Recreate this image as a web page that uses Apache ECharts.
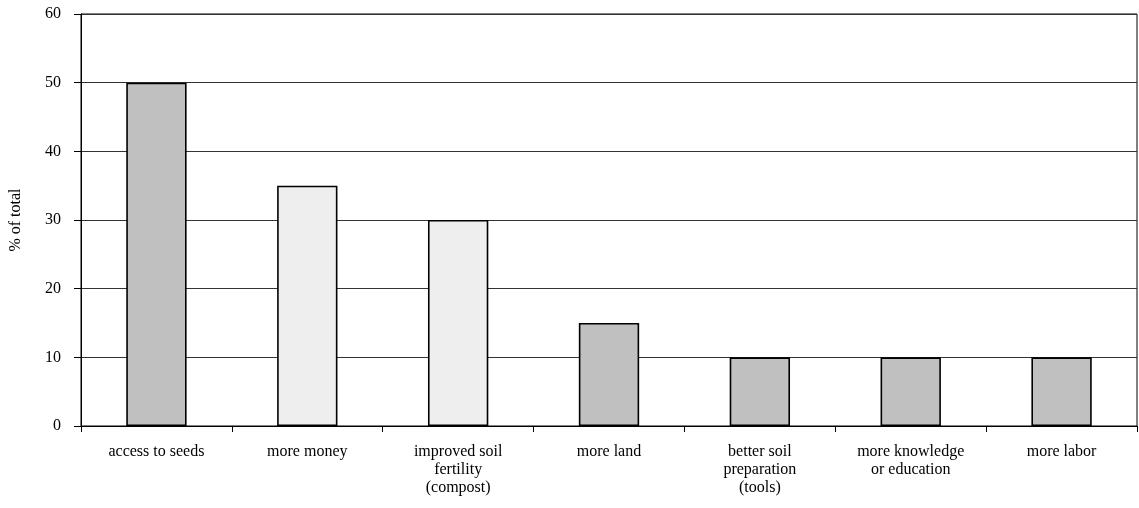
<!DOCTYPE html>
<html>
<head>
<meta charset="utf-8">
<script src="https://cdn.jsdelivr.net/npm/echarts@6/dist/echarts.min.js"></script>
<style>
  html, body { margin: 0; padding: 0; background: #fff; }
  #chart { width: 1139px; height: 508px; }
</style>
</head>
<body>
<div id="chart"></div>
<script>
// Constraints named by respondents
const categories = [
  'access to seeds',
  'more money',
  'improved soil\nfertility\n(compost)',
  'more land',
  'better soil\npreparation\n(tools)',
  'more knowledge\nor education',
  'more labor'
];
const shares = [50, 35, 30, 15, 10, 10, 10];
const shade = ['dark', 'light', 'light', 'dark', 'dark', 'dark', 'dark'];
const yTicks = { min: 0, max: 60, interval: 10 };

const fills = { dark: '#C0C0C0', light: '#EEEEEE' };
const font = '"Liberation Serif", "Times New Roman", serif';

const chart = echarts.init(document.getElementById('chart'));
chart.setOption({
  animation: false,
  textStyle: { fontFamily: font },
  grid: {
    left: 80, right: 2, top: 14, bottom: 82,
    show: true, borderColor: '#000', borderWidth: 1
  },
  xAxis: {
    type: 'category',
    data: categories,
    axisLine: { lineStyle: { color: '#000', width: 1 } },
    axisTick: { show: true, length: 6, lineStyle: { color: '#000' } },
    axisLabel: {
      color: '#000', fontSize: 16, fontFamily: font,
      lineHeight: 18, margin: 17, interval: 0
    }
  },
  yAxis: {
    type: 'value',
    min: yTicks.min, max: yTicks.max, interval: yTicks.interval,
    name: '% of total',
    nameLocation: 'middle',
    nameGap: 57,
    nameTextStyle: { color: '#000', fontSize: 16, fontFamily: font },
    axisLine: { show: true, lineStyle: { color: '#000', width: 1 } },
    axisTick: { show: true, length: 7, lineStyle: { color: '#000' } },
    axisLabel: { color: '#000', fontSize: 16, fontFamily: font, margin: 20 },
    splitLine: { show: true, lineStyle: { color: '#333', width: 1 } }
  },
  series: [{
    type: 'bar',
    barWidth: '40%',
    data: shares.map((v, i) => ({
      value: v,
      itemStyle: { color: fills[shade[i]] }
    })),
    itemStyle: { borderColor: '#000', borderWidth: 1.6 }
  }]
});
</script>
</body>
</html>
